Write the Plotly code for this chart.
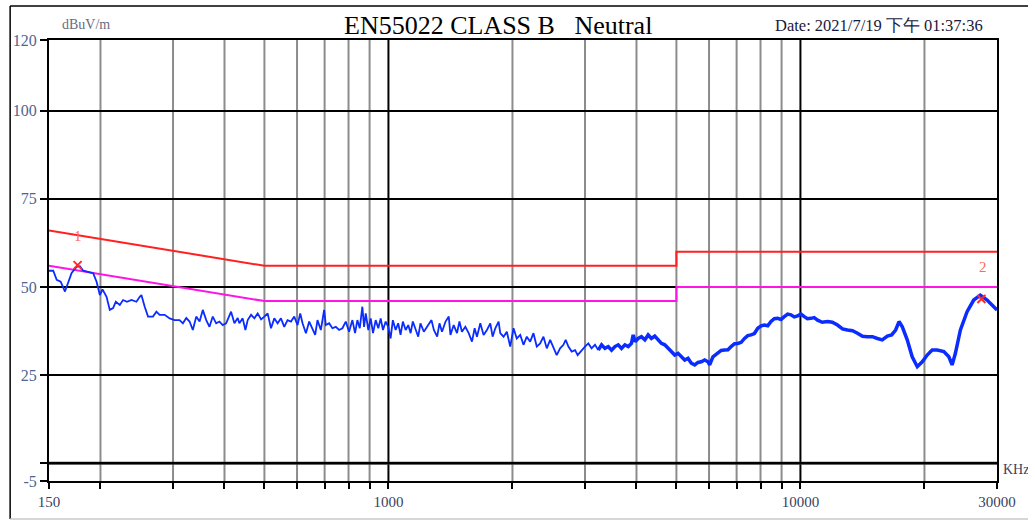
import plotly.graph_objects as go
import math

# ---------------- data ----------------
limit_freq = [150, 500, 500, 5000, 5000, 30000]
qp_limit = [66, 56, 56, 56, 60, 60]
avg_limit = [56, 46, 46, 46, 50, 50]

trace_freq_low = [
    150, 153.6, 156.6, 160.1, 164, 167, 170.2, 175, 178.3, 181.6,
    188.5, 192, 195.7, 199.3, 202.3, 206.9, 210.7, 214.6, 217.9, 222.8,
    226.9, 232, 237.8, 244.5, 249.1, 251.4, 256.1, 260.9, 268.2, 273.4,
    278.4, 286.3, 294.4, 302.7, 311.2, 317, 323.1, 329.1, 335.1, 341.6,
    348, 354.3, 361.2, 367.8, 374.6, 381.8, 388.9, 396.1, 403.7, 415,
    422.8, 430.6,
    434.7, 442.8, 449.6, 455.4, 464.1, 472.7, 481.5, 490.7, 499.8, 509.1,
    518.7, 528.4, 538.2, 548.4, 558.6, 569, 579.9, 590.7, 601.7, 610.8,
    618.8, 630.5, 642.2, 654.2, 664, 672.6, 685.4, 698.1, 704.7, 717.8,
    731.1, 745.1, 759, 773.1, 787.8, 802.5, 817.5, 829.8, 840.6, 851.9,
    864.3, 872.6, 880.8, 893.6, 905.7, 917.4, 931.2, 944.9, 957.5, 969.9,
    984.6, 999, 1012, 1025, 1041, 1056, 1070, 1084, 1101, 1117,
    1132, 1146, 1164, 1181, 1196, 1219, 1241,
    1272, 1289, 1313, 1330, 1349, 1376, 1401, 1414, 1440, 1467,
    1487, 1508, 1537, 1566, 1595, 1619, 1640, 1671, 1702, 1734,
    1767, 1790, 1817, 1851, 1868, 1903, 1938, 1975, 2012, 2049,
    2089, 2127, 2167, 2208, 2249, 2291, 2335, 2378, 2423, 2469,
    2515, 2561, 2610, 2659, 2693, 2734, 2785, 2838, 2879, 2944,
    3000, 3056, 3112, 3172, 3231,
]
trace_db_low = [
    54.6, 54.6, 52.0, 51.5, 48.7, 51.1, 54.0, 55.7, 55.9, 54.6,
    54.0, 53.9, 51.5, 47.7, 49.3, 47.2, 43.5, 44.0, 45.8, 44.9,
    46.3, 45.8, 46.3, 45.8, 47.2, 47.7, 44.4, 41.6, 41.6, 43.0,
    42.1, 42.1, 41.1, 40.6, 40.6, 39.7, 41.2, 40.2, 37.8, 41.6,
    40.2, 43.5, 40.6, 38.7, 41.6, 39.7, 40.2, 39.2, 39.7, 43.0,
    39.7, 41.2,
    39.7, 41.1, 37.8, 40.6, 42.1, 41.1, 42.5, 40.8, 41.6, 42.5,
    38.3, 41.1, 39.7, 41.1, 38.7, 40.6, 40.2, 41.6, 39.2, 42.5,
    39.7, 36.9, 40.2, 38.3, 36.4, 40.6, 37.8, 43.5, 39.2, 39.7,
    38.3, 38.7, 37.8, 38.3, 40.2, 37.3, 40.6, 36.9, 40.6, 38.3,
    44.4, 38.7, 42.5, 37.8, 41.1, 36.9, 40.6, 38.3, 41.1, 37.8,
    40.2, 38.7, 35.4, 40.6, 37.8, 39.7, 36.4, 40.2, 37.8, 39.2,
    36.9, 40.2, 37.8, 35.9, 39.7, 37.3, 38.7,
    40.6, 37.8, 35.9, 39.7, 37.3, 40.2, 41.6, 36.4, 39.2, 36.9,
    40.2, 37.3, 38.7, 36.9, 34.5, 38.3, 35.9, 39.7, 36.4, 37.8,
    39.7, 35.9, 38.3, 40.2, 36.9, 35.9, 37.3, 33.1, 38.3, 35.4,
    36.4, 33.6, 35.9, 34.5, 36.9, 33.1, 34.0, 35.9, 32.6, 35.0,
    32.6, 30.7, 32.6, 33.6, 35.0, 33.1, 31.7, 32.1, 30.7, 32.1,
    33.1, 34.0, 32.6, 33.6, 32.1,
]

trace_freq_high = [
    3231, 3291, 3354, 3416, 3480, 3546, 3612, 3679, 3749, 3819,
    3889, 3927, 3971, 4037, 4112, 4192, 4269, 4348, 4431, 4514,
    4598, 4685, 4772, 4861, 4954, 5046, 5139, 5238, 5335, 5434,
    5538, 5641, 5745, 5855, 5964, 6020, 6132,
    6306, 6420, 6545, 6670, 6790, 6920, 7048, 7180, 7316, 7450,
    7590, 7730, 7878, 8030, 8177, 8330, 8484, 8640, 8806, 8970,
    9140, 9310, 9483, 9660, 9843, 10030, 10217, 10400, 10600, 10800,
    11003, 11300, 11633, 11950, 12300, 12650, 13005, 13380, 13755, 14150,
    14541, 14950, 15375, 15800, 16253, 16650, 17025,
    17350, 17670, 18165, 18675, 19215, 19755, 20310, 20880, 21480,
    22290, 22920, 23340, 23775, 24450, 25380, 26340, 27330, 28380, 30000,
]
trace_db_high = [
    32.1, 33.6, 32.6, 33.1, 32.1, 33.1, 33.6, 32.6, 33.6, 33.1,
    34.0, 36.4, 34.5, 35.4, 35.9, 35.0, 36.4, 35.4, 36.1, 35.0,
    34.0, 33.6, 32.6, 31.7, 30.7, 31.2, 30.2, 29.3, 29.8, 28.4,
    27.9, 28.6, 28.8, 29.3, 28.8, 27.9, 30.2,
    31.2, 32.0, 32.1, 32.2, 33.1, 33.9, 34.0, 34.3, 35.4, 36.2,
    36.4, 36.8, 38.3, 39.0, 39.2, 39.0, 40.2, 41.0, 41.1, 40.8,
    41.6, 42.3, 42.1, 41.5, 41.8, 42.3, 41.6, 41.0, 41.1, 41.3,
    40.6, 40.0, 40.2, 40.0, 39.2, 38.1, 37.8, 37.6, 36.9, 36.0,
    35.9, 35.9, 35.4, 35.0, 36.1, 36.4, 37.8,
    40.2, 38.7, 35.0, 30.2, 27.4, 28.8, 30.7, 32.1, 32.1,
    31.7, 30.2, 27.9, 31.2, 37.8, 43.0, 46.3, 47.7, 46.3, 43.5,
]

marker_freq = [176, 27500]
marker_db = [56.2, 46.6]
marker_labels = ["1", "2"]
marker_label_db = [64.4, 55.7]
marker_label_freq = [176, 27700]

x_grid_freq = [150, 200, 300, 400, 500, 600, 700, 800, 900, 1000,
               2000, 3000, 4000, 5000, 6000, 7000, 8000, 9000, 10000,
               20000, 30000]
x_labelled = [150, 1000, 10000, 30000]
decade_lines = [1000, 10000]

y_ticks = [-5, 0, 25, 50, 75, 100, 120]
y_ticktext = ["-5", "", "25", "50", "75", "100", "120"]

title_text = "EN55022 CLASS B   Neutral"
date_text = "Date: 2021/7/19 下午 01:37:36"
unit_text = "dBuV/m"
x_unit_text = "KHz"

# ---------------- figure ----------------
SERIF = "Liberation Serif, Times New Roman, serif"
BLUE = "#0a2cff"

fig = go.Figure()
fig.add_trace(go.Scatter(x=limit_freq, y=qp_limit, mode="lines",
                         line=dict(color="#ff2020", width=2), hoverinfo="skip"))
fig.add_trace(go.Scatter(x=limit_freq, y=avg_limit, mode="lines",
                         line=dict(color="#ff14e6", width=2), hoverinfo="skip"))
fig.add_trace(go.Scatter(x=trace_freq_low, y=trace_db_low, mode="lines",
                         line=dict(color=BLUE, width=1.8)))
fig.add_trace(go.Scatter(x=trace_freq_high, y=trace_db_high, mode="lines",
                         line=dict(color=BLUE, width=3.5)))
fig.add_trace(go.Scatter(x=marker_freq, y=marker_db, mode="markers",
                         marker=dict(symbol="x-thin", size=8,
                                     line=dict(color="#ff2a2a", width=2))))

annotations = []
for f, d, t in zip(marker_label_freq, marker_label_db, marker_labels):
    annotations.append(dict(x=math.log10(f), y=d, xref="x", yref="y", text=t,
                            showarrow=False, font=dict(family=SERIF, size=15, color="#ff6a5a")))

annotations += [
    dict(x=0.474, y=1.034, xref="paper", yref="paper", text=title_text, showarrow=False,
         xanchor="center", yanchor="middle", font=dict(family=SERIF, size=26, color="black")),
    dict(x=0.764, y=1.034, xref="paper", yref="paper", text=date_text, showarrow=False,
         xanchor="left", yanchor="middle", font=dict(family=SERIF, size=16.5, color="#1a1a3a")),
    dict(x=0.0116, y=1.036, xref="paper", yref="paper", text=unit_text, showarrow=False,
         xanchor="left", yanchor="middle", font=dict(family=SERIF, size=14, color="#6a6a80")),
    dict(x=1.004, y=0.025, xref="paper", yref="paper", text=x_unit_text, showarrow=False,
         xanchor="left", yanchor="middle", font=dict(family=SERIF, size=14, color="#3a3f60")),
]

shapes = []
for f in x_grid_freq[1:-1]:
    is_decade = f in decade_lines
    shapes.append(dict(type="line", xref="x", yref="paper", x0=f, x1=f, y0=0, y1=1,
                       line=dict(color="black" if is_decade else "#8c8c8c", width=2),
                       layer="below"))
shapes.append(dict(type="line", xref="paper", yref="y", x0=0, x1=1, y0=0, y1=0,
                   line=dict(color="#333333", width=3), layer="below"))
# outer frame
shapes.append(dict(type="line", xref="paper", yref="paper", x0=-0.041, x1=-0.041, y0=-0.086, y1=1.077,
                   line=dict(color="black", width=1.5)))
shapes.append(dict(type="line", xref="paper", yref="paper", x0=-0.041, x1=1.06, y0=1.077, y1=1.077,
                   line=dict(color="black", width=1.5)))
shapes.append(dict(type="line", xref="paper", yref="paper", x0=-0.041, x1=1.06, y0=-0.086, y1=-0.086,
                   line=dict(color="#c8c8c8", width=1.5)))

fig.update_layout(
    width=1028, height=522,
    margin=dict(l=49, r=28, t=40, b=41),
    paper_bgcolor="white", plot_bgcolor="white",
    showlegend=False,
    annotations=annotations,
    shapes=shapes,
    xaxis=dict(type="log", range=[math.log10(150), math.log10(30000)],
               tickvals=x_grid_freq,
               ticktext=[str(v) if v in x_labelled else "" for v in x_grid_freq],
               ticks="outside", ticklen=6, tickwidth=1.5, tickcolor="black",
               showgrid=False,
               showline=True, linecolor="black", linewidth=2, mirror=True,
               zeroline=False,
               tickfont=dict(family=SERIF, size=15, color="#3a3f60")),
    yaxis=dict(range=[-5, 120], tickvals=y_ticks, ticktext=y_ticktext,
               ticks="outside", ticklen=7, tickwidth=1.5, tickcolor="black",
               showgrid=True, gridcolor="black", gridwidth=1.5,
               showline=True, linecolor="black", linewidth=2, mirror=True,
               zeroline=False,
               tickfont=dict(family=SERIF, size=16, color="#4f6590")),
)

fig.write_html("out.html")
